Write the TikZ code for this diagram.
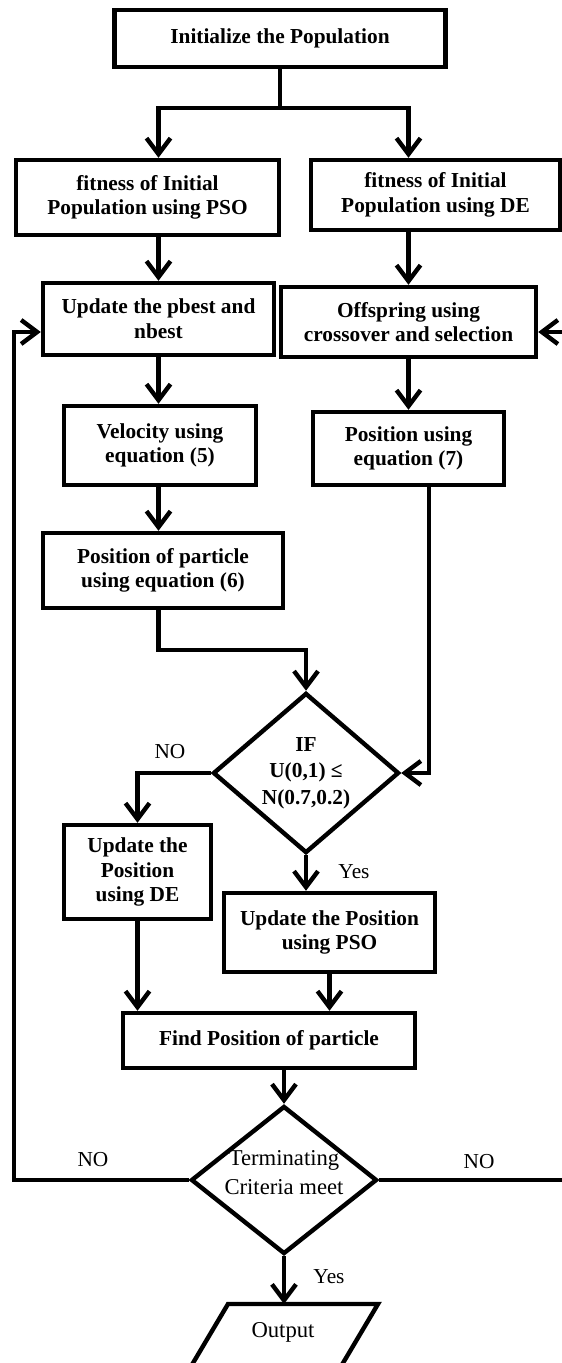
\documentclass[tikz,border=0pt]{standalone}
\usepackage{fontspec}
\setmainfont{Liberation Serif}
\usetikzlibrary{arrows.meta,shapes.geometric,calc}
\begin{document}
\begin{tikzpicture}[x=0.75pt,y=-0.75pt,
  box/.style={draw,line width=3.3pt,rectangle,align=center,inner sep=0pt,
    font=\bfseries\fontsize{16}{18.5}\selectfont},
  dec/.style={draw,line width=3.3pt,diamond,align=center,inner sep=0pt},
  arr/.style={line width=3.3pt,-{Straight Barb[length=12pt,width=18pt]}},
  ln/.style={line width=3.3pt},
  lbl/.style={font=\fontsize{16}{18}\selectfont,inner sep=0pt}]
\useasboundingbox (0,0) rectangle (561,1363);

\node[box,minimum width=248.25pt,minimum height=42.75pt] (init) at (280,38.5) {Initialize the Population};
\node[box,minimum width=197.25pt,minimum height=56.25pt] (fpso) at (147.5,197.5) {fitness of Initial\\Population using PSO};
\node[box,minimum width=186.75pt,minimum height=52.5pt] (fde) at (435.5,195) {fitness of Initial\\Population using DE};
\node[box,minimum width=173.25pt,minimum height=54pt] (pbest) at (158.5,319) {Update the pbest and\\nbest};
\node[box,minimum width=191.25pt,minimum height=52.5pt] (offs) at (408.5,322) {Offspring using\\crossover and selection};
\node[box,minimum width=144pt,minimum height=59.25pt] (vel) at (160,445.5) {Velocity using\\equation (5)};
\node[box,minimum width=143.25pt,minimum height=54.75pt] (pos7) at (408.5,448.5) {Position using\\equation (7)};
\node[box,minimum width=180pt,minimum height=56.25pt] (pos6) at (163,570.5) {Position of particle\\using equation (6)};
\node[dec,minimum width=139.5pt,minimum height=112.5pt,font=\bfseries\fontsize{16}{20}\selectfont] (dec1) at (306,773) {IF\\U(0,1) ≤\\N(0.7,0.2)};
\node[box,minimum width=110.25pt,minimum height=70.5pt] (updDE) at (137.5,872) {Update the\\Position\\using DE};
\node[box,minimum width=158.25pt,minimum height=59.25pt] (updPSO) at (329.5,932.5) {Update the Position\\using PSO};
\node[box,minimum width=219pt,minimum height=41.25pt] (find) at (269,1040.5) {Find Position of particle};
\node[dec,minimum width=139.5pt,minimum height=111pt] (dec2) at (284,1180) {};
\node[font=\fontsize{17}{21.75}\selectfont,align=center,inner sep=0pt] (dec2t) at (284,1173) {Terminating\\Criteria meet};

% output parallelogram
\draw[ln] (228,1304) -- (378,1304) -- (327,1390) -- (177,1390) -- cycle;
\node[font=\fontsize{17}{20}\selectfont,inner sep=0pt] (out) at (283,1332) {Output};
\coordinate (outtop) at (284,1304);

% labels
\node[lbl] (no1) at (170,752) {NO};
\node[lbl] (yes1) at (354,872) {Yes};
\node[lbl] (no2) at (93,1160) {NO};
\node[lbl] (no3) at (479,1162) {NO};
\node[lbl] (yes2) at (329,1277) {Yes};

% connectors
\coordinate (j1) at (280,108);
\draw[ln] (init.south) -- (j1);
\draw[arr] (j1) -| (fpso.north -| pbest.north);
\draw[arr] (j1) -| (fde.north -| offs.north);
\draw[arr] (fpso.south -| pbest.north) -- (pbest.north);
\draw[arr] (fde.south -| offs.north) -- (offs.north);
\draw[arr] (pbest.south) -- (pbest.south |- vel.north);
\draw[arr] (offs.south) -- (offs.south |- pos7.north);
\draw[arr] (pbest.south |- vel.south) -- (pbest.south |- pos6.north);
\draw[arr] (pbest.south |- pos6.south) -- ++(0,40) -| (dec1.north);
\draw[arr] ([xshift=15.4pt]pos7.south) |- (dec1.east);
\draw[arr] (dec1.west) -| (updDE.north);
\draw[arr] (dec1.south) -- (dec1.south |- updPSO.north);
\draw[arr] (updDE.south) -- (updDE.south |- find.north);
\draw[arr] (updPSO.south) -- (updPSO.south |- find.north);
\draw[arr] (find.south -| dec2.north) -- (dec2.north);
\coordinate (lc) at (14,332);
\draw[arr] (dec2.west) -| (lc) -- (pbest.west |- lc);
\coordinate (rc) at (566,332);
\draw[arr] (dec2.east) -| (rc) -- (offs.east |- rc);
\draw[arr] (dec2.south) -- (outtop);
\end{tikzpicture}
\end{document}
